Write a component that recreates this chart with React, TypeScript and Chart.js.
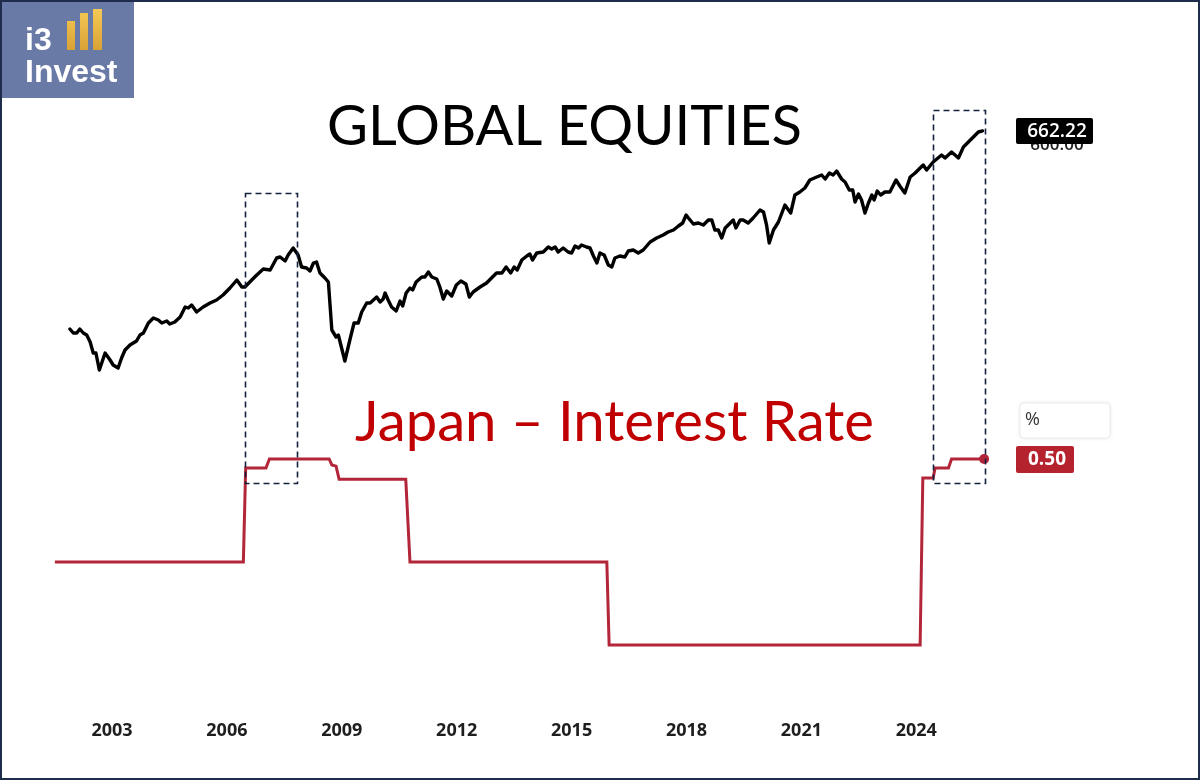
import { useEffect, useRef } from "react";
import { Chart, registerables } from "chart.js";

Chart.register(...registerables);

// ---------- data ----------
const tickYears = [2003, 2006, 2009, 2012, 2015, 2018, 2021, 2024];

const equityYears = [
  2001.9, 2001.99, 2002.08, 2002.16, 2002.25, 2002.34, 2002.43, 2002.51, 2002.58, 2002.67,
  2002.82, 2002.95, 2003.03, 2003.16, 2003.25, 2003.34, 2003.47, 2003.64, 2003.73, 2003.82,
  2003.95, 2004.08, 2004.21, 2004.3, 2004.43, 2004.51, 2004.64, 2004.78, 2004.91, 2004.99,
  2005.08, 2005.21, 2005.38, 2005.56, 2005.73, 2005.9, 2006.08, 2006.26, 2006.39, 2006.47,
  2006.65, 2006.78, 2006.95, 2007.13, 2007.3, 2007.39, 2007.52, 2007.6, 2007.73, 2007.86,
  2007.95, 2008.08, 2008.17, 2008.26, 2008.34, 2008.43, 2008.56, 2008.65, 2008.74, 2008.85,
  2008.91, 2009.08, 2009.21, 2009.32, 2009.43, 2009.52, 2009.65, 2009.74, 2009.91, 2010.0,
  2010.08, 2010.13, 2010.21, 2010.3, 2010.42, 2010.52, 2010.59, 2010.68, 2010.78, 2010.85,
  2010.94, 2011.09, 2011.17, 2011.26, 2011.35, 2011.48, 2011.56, 2011.65, 2011.74, 2011.87,
  2011.99, 2012.11, 2012.24, 2012.33, 2012.43, 2012.61, 2012.78, 2012.91, 2013.04, 2013.18,
  2013.29, 2013.41, 2013.5, 2013.58, 2013.7, 2013.83, 2013.91, 2013.98, 2014.09, 2014.26,
  2014.39, 2014.48, 2014.57, 2014.65, 2014.78, 2014.91, 2015.0, 2015.09, 2015.18, 2015.26,
  2015.39, 2015.48, 2015.57, 2015.66, 2015.74, 2015.85, 2015.96, 2016.05, 2016.13, 2016.26,
  2016.39, 2016.48, 2016.61, 2016.74, 2016.87, 2017.05, 2017.22, 2017.39, 2017.52, 2017.66,
  2017.79, 2017.9, 2017.99, 2018.05, 2018.18, 2018.31, 2018.44, 2018.57, 2018.66, 2018.74,
  2018.83, 2018.92, 2019.01, 2019.09, 2019.22, 2019.29, 2019.4, 2019.48, 2019.61, 2019.74,
  2019.92, 2020.01, 2020.09, 2020.16, 2020.27, 2020.4, 2020.57, 2020.72, 2020.83, 2020.96,
  2021.09, 2021.22, 2021.4, 2021.53, 2021.62, 2021.73, 2021.83, 2021.92, 2022.05, 2022.14,
  2022.25, 2022.34, 2022.4, 2022.49, 2022.57, 2022.66, 2022.75, 2022.84, 2022.9, 2022.98,
  2023.07, 2023.18, 2023.31, 2023.47, 2023.57, 2023.7, 2023.84, 2023.97, 2024.1, 2024.18,
  2024.27, 2024.44, 2024.66, 2024.75, 2024.92, 2025.1, 2025.23, 2025.36, 2025.49, 2025.62,
  2025.73,
];

const equityValues = [
  266, 258, 258, 266, 258, 254, 240, 218, 218, 184,
  218, 204, 194, 188, 208, 224, 234, 242, 254, 258,
  278, 288, 284, 278, 282, 276, 280, 290, 310, 308,
  314, 300, 310, 318, 324, 334, 348, 364, 350, 350,
  364, 374, 386, 384, 408, 410, 402, 414, 428, 414,
  390, 388, 382, 398, 400, 378, 368, 360, 264, 250,
  254, 202, 244, 278, 278, 300, 318, 318, 330, 320,
  326, 338, 324, 310, 302, 322, 312, 338, 348, 344,
  360, 370, 370, 380, 370, 366, 350, 326, 342, 332,
  354, 362, 356, 330, 340, 350, 358, 368, 378, 378,
  390, 378, 390, 384, 404, 412, 416, 404, 418, 420,
  430, 426, 430, 420, 428, 420, 418, 432, 428, 434,
  430, 428, 412, 398, 418, 414, 394, 390, 408, 412,
  410, 422, 424, 418, 424, 440, 448, 454, 460, 464,
  472, 478, 494, 488, 476, 478, 474, 484, 484, 464,
  464, 448, 468, 474, 484, 468, 484, 484, 478, 488,
  504, 500, 474, 438, 464, 480, 514, 498, 534, 540,
  548, 564, 570, 574, 566, 578, 574, 582, 566, 560,
  544, 544, 520, 536, 524, 498, 518, 534, 524, 542,
  534, 540, 540, 564, 552, 538, 570, 578, 588, 594,
  584, 600, 614, 608, 620, 608, 630, 640, 650, 660,
  662.22,
];

const rateYears = [
  2001.51, 2006.43, 2006.49, 2007.02, 2007.11, 2008.67, 2008.74, 2008.85, 2008.93, 2010.67,
  2010.78, 2015.92, 2015.98, 2024.1, 2024.17, 2024.44, 2024.49, 2024.84, 2024.92, 2025.77,
];
const rateValues = [
  0.168, 0.168, 0.471, 0.471, 0.5, 0.5, 0.481, 0.477, 0.435, 0.435,
  0.168, 0.168, -0.1, -0.1, 0.439, 0.439, 0.471, 0.471, 0.5, 0.5,
];

// highlighted periods (dashed boxes)
const highlightStart = [2006.47, 2024.44];
const highlightEnd = [2007.83, 2025.79];
const highlightTop = [538, 704]; // in equity units
const highlightBottom = [0.423, 0.423]; // in rate units

const titleText = "GLOBAL EQUITIES";
const rateTitleText = "Japan \u2013 Interest Rate";

function fitFont(ctx: CanvasRenderingContext2D, text: string, family: string, weight: string, target: number) {
  ctx.font = `${weight} 100px ${family}`;
  const w = ctx.measureText(text).width;
  const size = (100 * target) / w;
  ctx.font = `${weight} ${size}px ${family}`;
}

function roundRect(ctx: CanvasRenderingContext2D, x: number, y: number, w: number, h: number, r: number) {
  ctx.beginPath();
  ctx.moveTo(x + r, y);
  ctx.lineTo(x + w - r, y);
  ctx.quadraticCurveTo(x + w, y, x + w, y + r);
  ctx.lineTo(x + w, y + h - r);
  ctx.quadraticCurveTo(x + w, y + h, x + w - r, y + h);
  ctx.lineTo(x + r, y + h);
  ctx.quadraticCurveTo(x, y + h, x, y + h - r);
  ctx.lineTo(x, y + r);
  ctx.quadraticCurveTo(x, y, x + r, y);
  ctx.closePath();
}

const overlayPlugin = {
  id: "overlay",
  afterDatasetsDraw(chart: any) {
    const { ctx } = chart;
    const xs = chart.scales.x;
    const ye = chart.scales.yEq;
    const yr = chart.scales.yRate;
    ctx.save();
    ctx.strokeStyle = "#14213f";
    ctx.lineWidth = 1.6;
    ctx.setLineDash([6, 4]);
    for (let i = 0; i < highlightStart.length; i++) {
      const x1 = Math.round(xs.getPixelForValue(highlightStart[i])) + 0.5;
      const x2 = Math.round(xs.getPixelForValue(highlightEnd[i])) + 0.5;
      const y1 = Math.round(ye.getPixelForValue(highlightTop[i])) + 0.5;
      const y2 = Math.round(yr.getPixelForValue(highlightBottom[i])) + 0.5;
      ctx.strokeRect(x1, y1, x2 - x1, y2 - y1);
    }
    ctx.restore();
  },
  afterDraw(chart: any) {
    const { ctx } = chart;
    const ye = chart.scales.yEq;
    const yr = chart.scales.yRate;
    ctx.save();

    // titles
    ctx.fillStyle = "#000";
    ctx.textAlign = "center";
    ctx.textBaseline = "alphabetic";
    fitFont(ctx, titleText, "Lato", "normal", 475);
    ctx.fillText(titleText, 564.5, 145);
    ctx.fillStyle = "#c00000";
    fitFont(ctx, rateTitleText, "Lato", "normal", 519);
    ctx.fillText(rateTitleText, 614.5, 441);

    // equity last value label (with ghost label behind)
    const lastEq = equityValues[equityValues.length - 1];
    const eqY = ye.getPixelForValue(lastEq);
    ctx.fillStyle = "#222";
    ctx.font = "600 17px 'Open Sans'";
    ctx.textBaseline = "middle";
    ctx.fillText("600.00", 1057, eqY + 14);
    ctx.fillStyle = "#000";
    roundRect(ctx, 1016, eqY - 13, 77, 26, 2);
    ctx.fill();
    ctx.fillStyle = "#fff";
    ctx.font = "600 19px 'Open Sans'";
    ctx.fillText(lastEq.toFixed(2), 1057, eqY + 1);

    // percent box
    ctx.shadowColor = "rgba(0,0,0,0.12)";
    ctx.shadowBlur = 4;
    ctx.fillStyle = "#fff";
    roundRect(ctx, 1020, 403, 90, 35, 4);
    ctx.fill();
    ctx.shadowBlur = 0;
    ctx.shadowColor = "transparent";
    ctx.strokeStyle = "#ececec";
    ctx.lineWidth = 1;
    ctx.stroke();
    ctx.fillStyle = "#333";
    ctx.font = "18px 'Open Sans'";
    ctx.textAlign = "left";
    ctx.fillText("%", 1025, 420);

    // rate last value label
    const lastRate = rateValues[rateValues.length - 1];
    const rY = yr.getPixelForValue(lastRate);
    ctx.fillStyle = "#b5232f";
    roundRect(ctx, 1016, rY - 13, 58, 27, 2);
    ctx.fill();
    ctx.fillStyle = "#fff";
    ctx.font = "700 19px 'Open Sans'";
    ctx.textAlign = "center";
    ctx.fillText(lastRate.toFixed(2), 1047, rY + 1);

    // logo
    ctx.fillStyle = "#6a7aa6";
    ctx.fillRect(2, 2, 132, 96);
    const grad = ctx.createLinearGradient(0, 9, 0, 50);
    grad.addColorStop(0, "#f5c955");
    grad.addColorStop(1, "#d9a235");
    ctx.fillStyle = grad;
    ctx.fillRect(67, 21, 8, 29);
    ctx.fillRect(80, 13, 8, 37);
    ctx.fillRect(93, 9, 9, 41);
    ctx.fillStyle = "#fff";
    ctx.textAlign = "left";
    ctx.textBaseline = "alphabetic";
    ctx.font = "700 32px 'Liberation Sans'";
    ctx.fillText("i3", 25, 50);
    ctx.fillText("Invest", 25, 82);

    ctx.restore();
  },
};

export default function App() {
  const ref = useRef<HTMLCanvasElement>(null);
  useEffect(() => {
    const canvas = ref.current!;
    const chart = new Chart(canvas, {
      type: "line",
      data: {
        datasets: [
          {
            label: "Global Equities",
            data: equityYears.map((x, i) => ({ x, y: equityValues[i] })),
            yAxisID: "yEq",
            borderColor: "#000",
            borderWidth: 3.4,
            pointRadius: 0,
            tension: 0,
            borderJoinStyle: "round",
            borderCapStyle: "round",
          },
          {
            label: "Japan Interest Rate",
            data: rateYears.map((x, i) => ({ x, y: rateValues[i] })),
            yAxisID: "yRate",
            borderColor: "#b3263a",
            borderWidth: 3,
            pointRadius: rateYears.map((_, i) => (i === rateYears.length - 1 ? 5 : 0)),
            pointBackgroundColor: "#b3263a",
            pointBorderWidth: 0,
            tension: 0,
          },
        ],
      },
      options: {
        responsive: false,
        animation: false,
        layout: { padding: 0, autoPadding: false },
        plugins: { legend: { display: false }, tooltip: { enabled: false } },
        scales: {
          x: {
            type: "linear",
            min: 2000.076,
            max: 2031.407,
            afterBuildTicks: (s: any) => {
              s.ticks = tickYears.map((v) => ({ value: v }));
            },
            afterFit: (s: any) => {
              s.height = 80;
            },
            ticks: {
              callback: (v: any) => String(v),
              font: { family: "'Open Sans'", weight: "bold", size: 18 },
              color: "#1e1e1e",
              padding: 20,
              maxRotation: 0,
              autoSkip: false,
            },
            grid: { display: false, drawTicks: false },
            border: { display: false },
          },
          yEq: { type: "linear", display: false, min: -476, max: 924 },
          yRate: { type: "linear", display: false, min: -0.27742, max: 1.98065 },
        },
      } as any,
      plugins: [overlayPlugin],
    });
    return () => chart.destroy();
  }, []);

  return (
    <div style={{ position: "fixed", left: 0, top: 0, width: 1200, height: 780, background: "#fff" }}>
      <canvas ref={ref} width={1200} height={780} style={{ position: "absolute", left: 0, top: 0 }} />
      <div
        style={{
          position: "absolute",
          inset: 0,
          border: "2px solid #1f2c4c",
          boxSizing: "border-box",
          pointerEvents: "none",
        }}
      />
    </div>
  );
}
